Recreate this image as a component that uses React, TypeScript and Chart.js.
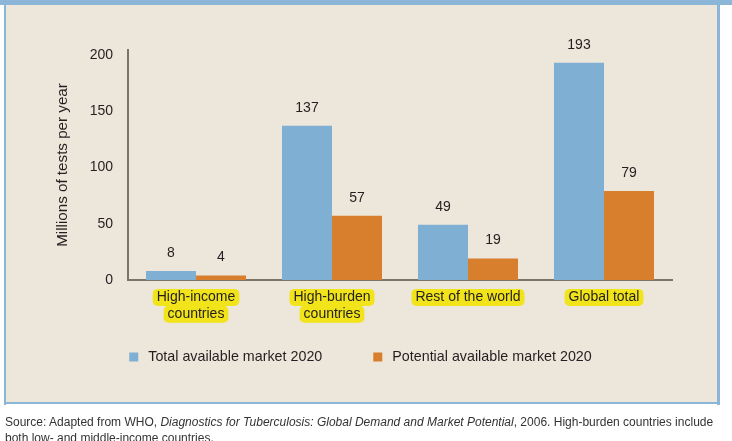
import React, { useEffect, useRef } from "react";
import { Chart, registerables } from "chart.js";

Chart.register(...registerables);

const categories: (string | string[])[] = [
  ["High-income", "countries"],
  ["High-burden", "countries"],
  "Rest of the world",
  "Global total",
];
const totalAvailable = [8, 137, 49, 193];
const potentialAvailable = [4, 57, 19, 79];
const seriesNames = ["Total available market 2020", "Potential available market 2020"];
const yTickValues = [0, 50, 100, 150, 200];
const yTitle = "Millions of tests per year";

const BLUE = "#7fb0d4";
const ORANGE = "#d87f2e";
const PANEL = "#ede6da";
const FRAME = "#8cb6d8";
const AXIS = "#7b746b";
const TEXT = "#231f20";
const HILITE = "#f2e41a";
const FONT = "'Liberation Sans', Arial, Helvetica, sans-serif";

const panelPlugin = {
  id: "panel",
  beforeDraw(chart: any) {
    const { ctx } = chart;
    ctx.save();
    ctx.fillStyle = "#ffffff";
    ctx.fillRect(0, 0, chart.width, chart.height);
    ctx.fillStyle = PANEL;
    ctx.fillRect(5, 0, 713, 404);
    ctx.fillStyle = FRAME;
    ctx.fillRect(0, 0, 732, 5);
    ctx.fillRect(4, 0, 2, 405);
    ctx.fillRect(717, 0, 3, 405);
    ctx.fillRect(4, 402, 716, 2);

    // highlighter behind category labels
    const xs = chart.scales.x;
    const fontSize = 14;
    const lh = fontSize * 1.2;
    const pad = 9;
    ctx.font = `${fontSize}px ${FONT}`;
    ctx.fillStyle = HILITE;
    categories.forEach((lab, i) => {
      const lines = Array.isArray(lab) ? lab : [lab];
      const cx = xs.getPixelForTick(i);
      lines.forEach((line, j) => {
        const w = ctx.measureText(line).width + 8;
        const cy = xs.top + pad + lh / 2 + j * lh;
        const h = 17;
        ctx.beginPath();
        if (ctx.roundRect) ctx.roundRect(cx - w / 2, cy - h / 2, w, h, 5);
        else ctx.rect(cx - w / 2, cy - h / 2, w, h);
        ctx.fill();
      });
    });
    ctx.restore();
  },
};

const valueLabelPlugin = {
  id: "valueLabels",
  afterDatasetsDraw(chart: any) {
    const { ctx } = chart;
    ctx.save();
    ctx.font = `14px ${FONT}`;
    ctx.fillStyle = TEXT;
    ctx.textAlign = "center";
    ctx.textBaseline = "middle";
    chart.data.datasets.forEach((ds: any, di: number) => {
      const meta = chart.getDatasetMeta(di);
      meta.data.forEach((el: any, i: number) => {
        ctx.fillText(String(ds.data[i]), el.x, el.y - 18);
      });
    });
    ctx.restore();
  },
};

const legendPlugin = {
  id: "customLegend",
  afterDraw(chart: any) {
    const { ctx } = chart;
    ctx.save();
    ctx.font = `14.3px ${FONT}`;
    ctx.textBaseline = "middle";
    ctx.textAlign = "left";
    const box = 9;
    const gap = 10;
    const itemGap = 51;
    const widths = seriesNames.map((s) => ctx.measureText(s).width);
    const total = widths.reduce((a, w) => a + box + gap + w, 0) + itemGap;
    let x = 360.5 - total / 2;
    const cy = 357;
    chart.data.datasets.forEach((ds: any, i: number) => {
      ctx.fillStyle = ds.backgroundColor;
      ctx.fillRect(x, cy - box / 2, box, box);
      ctx.fillStyle = TEXT;
      ctx.fillText(seriesNames[i], x + box + gap, cy + 0.5);
      x += box + gap + widths[i] + itemGap;
    });
    ctx.restore();
  },
};

export default function App() {
  const ref = useRef<HTMLCanvasElement | null>(null);

  useEffect(() => {
    if (!ref.current) return;
    const chart = new Chart(ref.current, {
      type: "bar",
      data: {
        labels: categories as any,
        datasets: [
          { label: seriesNames[0], data: totalAvailable, backgroundColor: BLUE, borderWidth: 0 },
          { label: seriesNames[1], data: potentialAvailable, backgroundColor: ORANGE, borderWidth: 0 },
        ],
      },
      options: {
        animation: false,
        responsive: false,
        devicePixelRatio: 1,
        layout: { padding: { top: 50, right: 60, bottom: 116, left: 0 } },
        datasets: { bar: { categoryPercentage: 100 / 136, barPercentage: 1 } } as any,
        plugins: {
          legend: { display: false },
          tooltip: { enabled: false },
        },
        scales: {
          x: {
            grid: { display: false, drawTicks: false },
            border: { display: true, color: AXIS, width: 2 },
            ticks: {
              color: TEXT,
              font: { family: FONT, size: 14 },
              padding: 9,
              maxRotation: 0,
              autoSkip: false,
            },
            afterFit: (s: any) => {
              s.height = 45;
            },
          },
          y: {
            min: 0,
            max: 204.4,
            grid: { display: false, drawTicks: false },
            border: { display: true, color: AXIS, width: 2 },
            afterBuildTicks: (s: any) => {
              s.ticks = yTickValues.map((v) => ({ value: v }));
            },
            ticks: {
              color: TEXT,
              font: { family: FONT, size: 14 },
              padding: 15,
            },
            title: {
              display: true,
              text: yTitle,
              color: TEXT,
              font: { family: FONT, size: 15.2 },
              padding: { top: 54, bottom: 0 },
            },
            afterFit: (s: any) => {
              s.width = 128;
            },
          },
        },
      },
      plugins: [panelPlugin, valueLabelPlugin, legendPlugin],
    });
    return () => chart.destroy();
  }, []);

  return (
    <div style={{ position: "absolute", left: 0, top: 0, width: 732, height: 441, overflow: "hidden", background: "#fff" }}>
      <canvas ref={ref} width={732} height={441} style={{ display: "block", width: 732, height: 441 }} />
      <div
        style={{
          position: "absolute",
          left: 5,
          top: 414,
          fontFamily: FONT,
          fontSize: 12,
          lineHeight: "16px",
          color: "#333",
          whiteSpace: "nowrap",
        }}
      >
        Source: Adapted from WHO, <i>Diagnostics for Tuberculosis: Global Demand and Market Potential</i>, 2006. High-burden countries include
        <br />
        both low- and middle-income countries.
      </div>
    </div>
  );
}
